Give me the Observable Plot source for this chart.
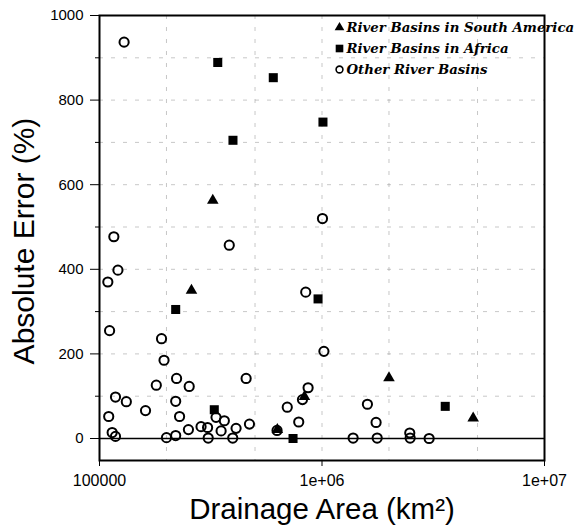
<!DOCTYPE html>
<html><head><meta charset="utf-8">
<script src="https://cdn.jsdelivr.net/npm/d3@7"></script>
<script src="https://cdn.jsdelivr.net/npm/@observablehq/plot@0.6"></script>
<style>
html,body{margin:0;padding:0;background:#fff;overflow:hidden}
#chart svg{overflow:visible;display:block}
</style></head><body><div id="chart"></div>
<script>
// River basins in South America (triangles)
const saArea  = [3.23e5, 2.59e5, 2.0e6, 4.78e6, 6.3e5, 8.34e5];
const saError = [563, 350, 143, 48, 21, 99];
// River basins in Africa (squares)
const afArea  = [3.4e5, 6.04e5, 3.98e5, 1.01e6, 2.2e5, 9.6e5, 3.28e5, 7.41e5, 3.58e6];
const afError = [889, 853, 705, 748, 305, 330, 68, 0, 76];
// Other river basins (open circles)
const otArea  = [1.29e5, 1.005e6, 3.83e5, 1.16e5, 1.21e5, 1.09e5, 1.11e5, 8.45e5, 1.02e6, 1.9e5,
                 1.95e5, 2.22e5, 1.8e5, 2.53e5, 4.56e5, 1.18e5, 1.32e5, 1.61e5, 2.2e5, 2.29e5,
                 1.1e5, 1.14e5, 1.18e5, 2.0e5, 2.2e5, 2.51e5, 2.86e5, 3.06e5, 3.08e5, 3.34e5,
                 3.52e5, 3.64e5, 3.97e5, 4.11e5, 4.72e5, 6.28e5, 6.98e5, 7.86e5, 8.17e5, 8.66e5,
                 1.6e6, 1.75e6, 1.38e6, 1.77e6, 2.48e6, 2.49e6, 3.03e6];
const otError = [937, 520, 457, 477, 398, 370, 255, 346, 206, 236,
                 185, 142, 126, 123, 142, 98, 87, 66, 88, 52,
                 52, 14, 5, 2, 7, 21, 28, 26, 1, 50,
                 18, 42, 1, 24, 34, 19, 74, 39, 92, 120,
                 81, 38, 1, 1, 13, 1, 0];

const yMajorTicks = [0, 200, 400, 600, 800, 1000];
const yMinorTicks = [100, 300, 500, 700, 900];
const yGridTicks  = [100, 200, 300, 400, 500, 600, 700, 800, 900];
const xLabelTicks = [1e5, 1e6, 1e7];
const xLabels     = ["100000", "1e+06", "1e+07"];
const xGridTicks  = [2e5, 5e5, 1e6, 2e6, 5e6];
const legendLabels  = ["River Basins in South America", "River Basins in Africa", "Other River Basins"];
const legendSymbols = ["triangle", "square", "circle"];
const xTitle = "Drainage Area (km²)";
const yTitle = "Absolute Error (%)";

const toRows = (a, e) => a.map((v, i) => ({area: v, err: e[i]}));
const sa = toRows(saArea, saError);
const af = toRows(afArea, afError);
const ot = toRows(otArea, otError);

const legendMarks = legendSymbols.flatMap((s, i) => {
  const filled = s !== "circle";
  const sym = Plot.dot([s], {
    frameAnchor: "top-left", dx: 240, dy: 12 + 21 * i, symbol: s,
    r: s === "triangle" ? 3.6 : s === "square" ? 4.3 : 3.4,
    fill: filled ? "#000" : "none", stroke: filled ? null : "#000", strokeWidth: 1.6
  });
  const txt = Plot.text([legendLabels[i]], {
    frameAnchor: "top-left", dx: 247, dy: 12 + 21 * i, text: d => d,
    textAnchor: "start", lineAnchor: "middle",
    fontFamily: "'DejaVu Serif', serif", fontWeight: "bold", fontStyle: "italic", fontSize: 13.3, fill: "#000"
  });
  return [sym, txt];
});

const plot = Plot.plot({
  width: 586, height: 527,
  marginLeft: 99, marginRight: 42, marginTop: 15, marginBottom: 67,
  style: {fontFamily: "'Liberation Sans', Arial, sans-serif", background: "#fff", color: "#000"},
  x: {type: "log", domain: [1e5, 1e7]},
  y: {domain: [-52, 1000]},
  marks: [
    Plot.gridY(yGridTicks, {stroke: "#999", strokeOpacity: 0.55, strokeDasharray: "4,8", strokeWidth: 1}),
    Plot.gridX(xGridTicks, {stroke: "#999", strokeOpacity: 0.55, strokeDasharray: "4,8", strokeWidth: 1}),
    Plot.ruleY([0], {stroke: "#000", strokeWidth: 1.6}),
    Plot.axisY(yMajorTicks, {tickSize: 9, tickPadding: 7, fontSize: 15, label: null, tickFormat: d => String(d)}),
    Plot.axisY(yMinorTicks, {tickSize: 4, tickFormat: () => "", label: null}),
    Plot.axisX(xLabelTicks, {tickSize: 6, tickPadding: 8, fontSize: 16, label: null,
      tickFormat: d => xLabels[xLabelTicks.indexOf(d)]}),
    Plot.frame({stroke: "#000", strokeWidth: 2}),
    Plot.dot(sa, {x: "area", y: "err", symbol: "triangle", fill: "#000", r: 4.3}),
    Plot.dot(af, {x: "area", y: "err", symbol: "square", fill: "#000", r: 5.1}),
    Plot.dot(ot, {x: "area", y: "err", symbol: "circle", fill: "none", stroke: "#000", strokeWidth: 2, r: 4.6}),
    ...legendMarks,
    Plot.text([xTitle], {frameAnchor: "bottom", dy: 49, text: d => d, fontSize: 29.5, textAnchor: "middle", lineAnchor: "middle", fill: "#000"}),
    Plot.text([yTitle], {frameAnchor: "left", dx: -75, dy: 3, text: d => d, rotate: -90, fontSize: 30, textAnchor: "middle", lineAnchor: "middle", fill: "#000"})
  ]
});
document.getElementById("chart").appendChild(plot);
</script>
</body></html>
